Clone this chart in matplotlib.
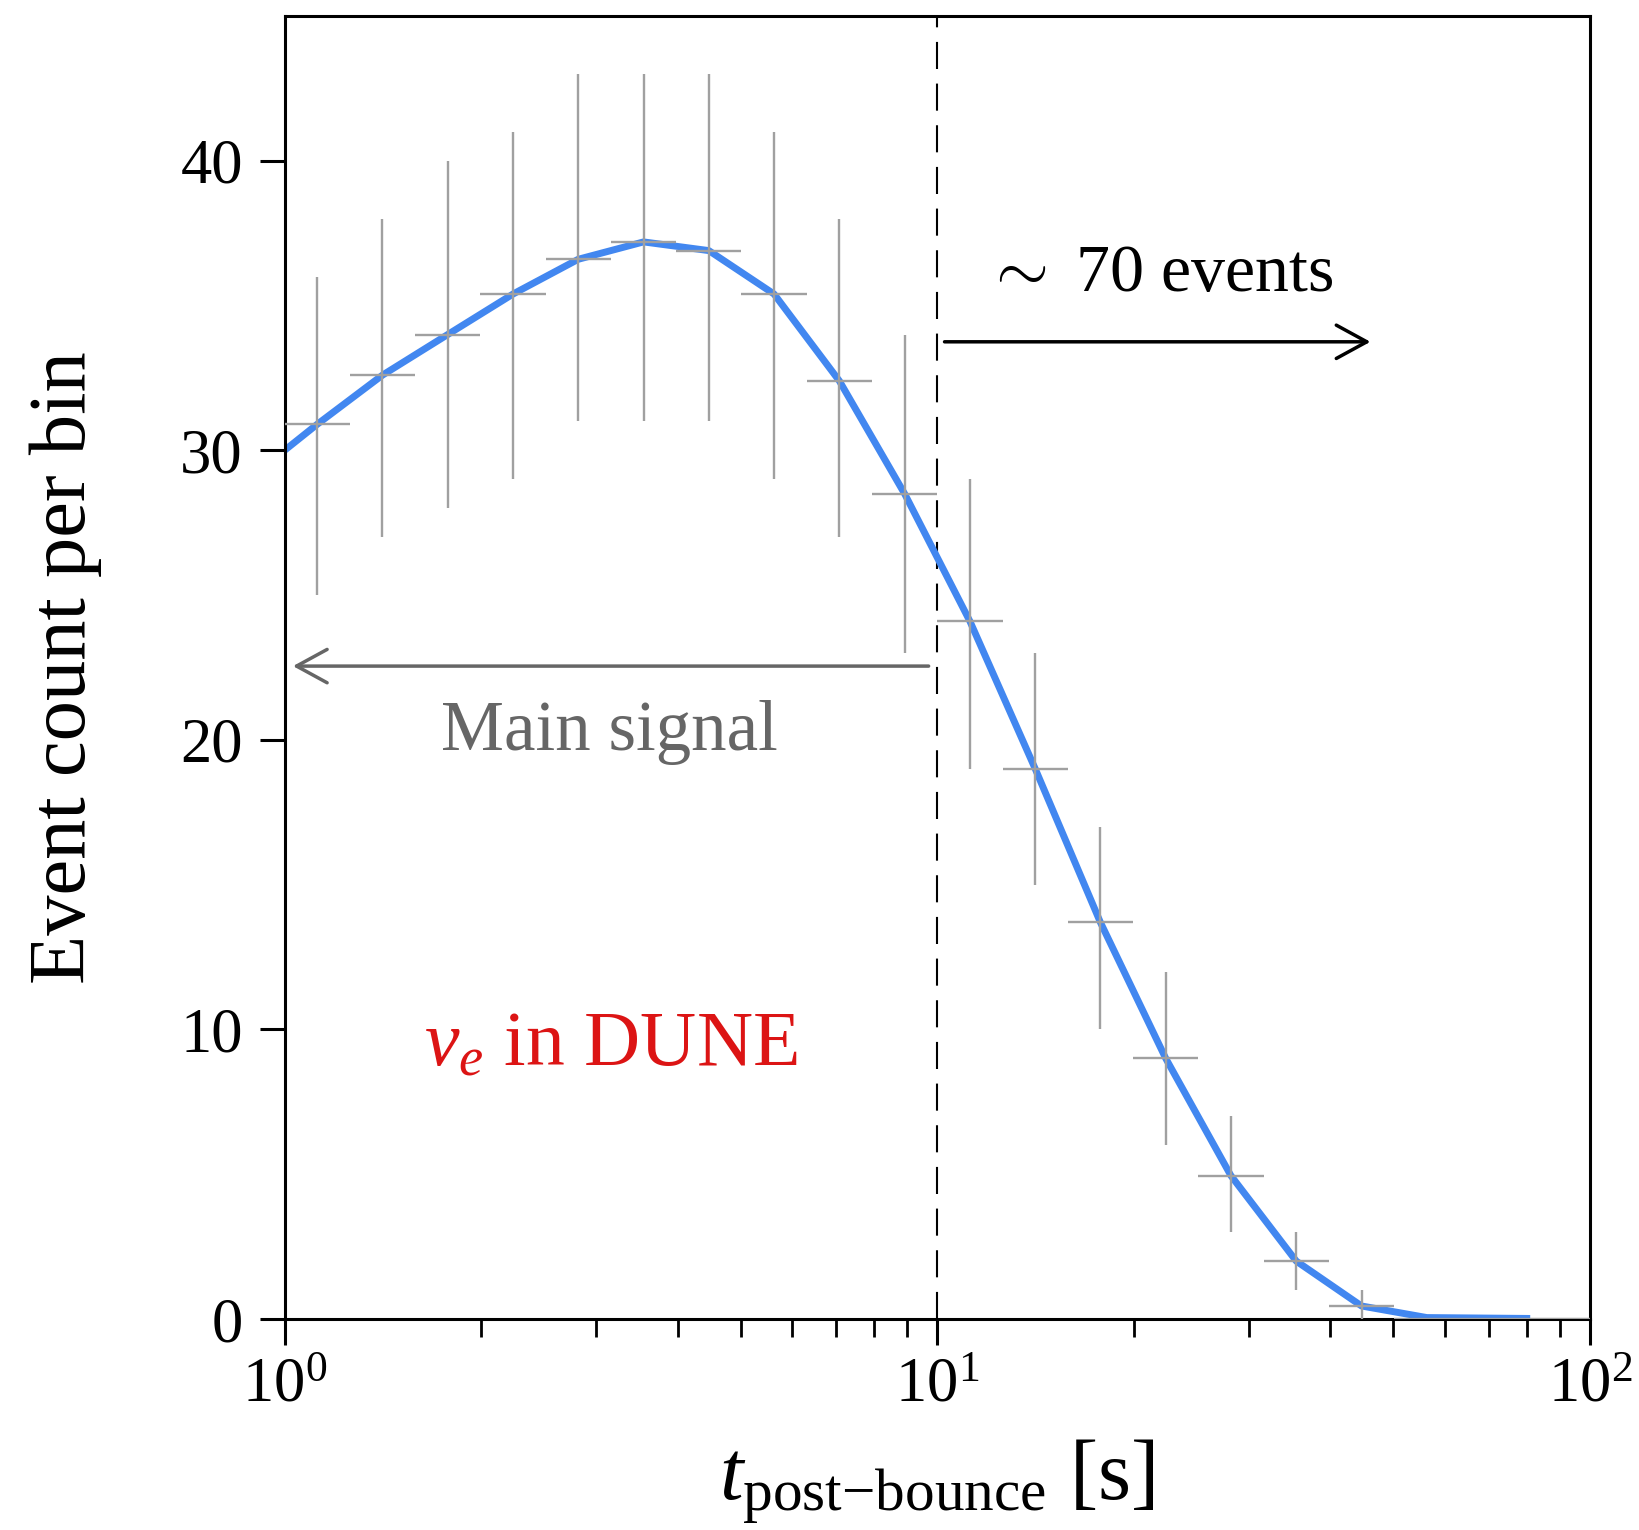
import numpy as np
import matplotlib
matplotlib.use('Agg')
import matplotlib.pyplot as plt

plt.rcParams['font.family'] = ['Liberation Serif', 'DejaVu Serif']
plt.rcParams['mathtext.fontset'] = 'custom'
plt.rcParams['mathtext.rm'] = 'Liberation Serif'
plt.rcParams['mathtext.it'] = 'Liberation Serif:italic'

# ---------------------------------- data ----------------------------------
# 20 log-spaced time bins from 1 s to 100 s
bin_edges = np.logspace(0, 2, 21)
counts = [30.9, 32.6, 34.0, 35.4, 36.6, 37.2, 36.9, 35.4, 32.4, 28.5,
          24.1, 19.0, 13.7, 9.0, 4.95, 2.0, 0.45, 0.0, 0.0, 0.0]
err_lo = [25, 27, 28, 29, 31, 31, 31, 29, 27, 23,
          19, 15, 10, 6, 3, 1, 0, 0, 0, 0]
err_hi = [36, 38, 40, 41, 43, 43, 43, 41, 38, 34,
          29, 23, 17, 12, 7, 3, 1, 0, 0, 0]

# model curve
t_model = [1.0, 1.122, 1.413, 1.778, 2.239, 2.818, 3.548, 4.467, 5.623, 7.079,
           8.913, 11.22, 14.13, 17.78, 22.39, 28.18, 35.48, 44.67, 56.23, 80.0]
n_model = [30.0, 30.9, 32.6, 34.0, 35.4, 36.6, 37.2, 36.9, 35.4, 32.4,
           28.5, 24.1, 19.0, 13.7, 9.0, 4.95, 2.0, 0.45, 0.05, 0.02]

# ---------------------------------- plot ----------------------------------
centers = np.sqrt(bin_edges[:-1] * bin_edges[1:])
counts = np.array(counts)

fig = plt.figure(figsize=(16.4, 15.3), dpi=100)
ax = fig.add_axes([0.1735, 0.1379, 0.7960, 0.8516])

ax.plot(t_model, n_model, color='#4287f0', lw=5, zorder=2)
ax.errorbar(centers, counts,
            yerr=[counts - np.array(err_lo), np.array(err_hi) - counts],
            xerr=[centers - bin_edges[:-1], bin_edges[1:] - centers],
            fmt='none', ecolor='#a0a0a0', elinewidth=1.7, capsize=0, zorder=3)

ax.axvline(10, color='k', lw=1.5, ls=(0, (13, 7)), zorder=1)

ax.annotate('', xy=(46.1, 33.75), xytext=(10.26, 33.75),
            arrowprops=dict(arrowstyle='->,head_length=1.1,head_width=0.6',
                            lw=2.5, color='k', mutation_scale=20,
                            shrinkA=0, shrinkB=0))
ax.text(21.9, 35.5, r'$\sim$ 70 events', ha='center', va='baseline', fontsize=49)

ax.annotate('', xy=(1.03, 22.55), xytext=(9.7, 22.55),
            arrowprops=dict(arrowstyle='->,head_length=1.1,head_width=0.6',
                            lw=2.5, color='#666666', mutation_scale=20,
                            shrinkA=0, shrinkB=0))
ax.text(3.15, 19.66, 'Main signal', ha='center', va='baseline', fontsize=51,
        color='#666666')
ax.text(3.16, 8.74, r'$\nu_e$ in DUNE', ha='center', va='baseline', fontsize=56,
        color='#dc1414')

ax.set_xscale('log')
ax.set_xlim(1, 100)
ax.set_ylim(0, 45)
ax.set_yticks([0, 10, 20, 30, 40])

ax.set_xlabel(r'$t_{\mathrm{post{-}bounce}}$ [s]', fontsize=61, labelpad=16)
ax.set_ylabel('Event count per bin', fontsize=58, labelpad=56)

for s in ax.spines.values():
    s.set_linewidth(2.2)
ax.tick_params(which='major', length=19, width=2.2, labelsize=45, pad=12)
ax.tick_params(which='minor', length=13, width=2.0)
ax.tick_params(axis='y', which='major', length=18)
ax.tick_params(axis='x', which='major', pad=9)

fig.savefig('out.png', dpi=100)
